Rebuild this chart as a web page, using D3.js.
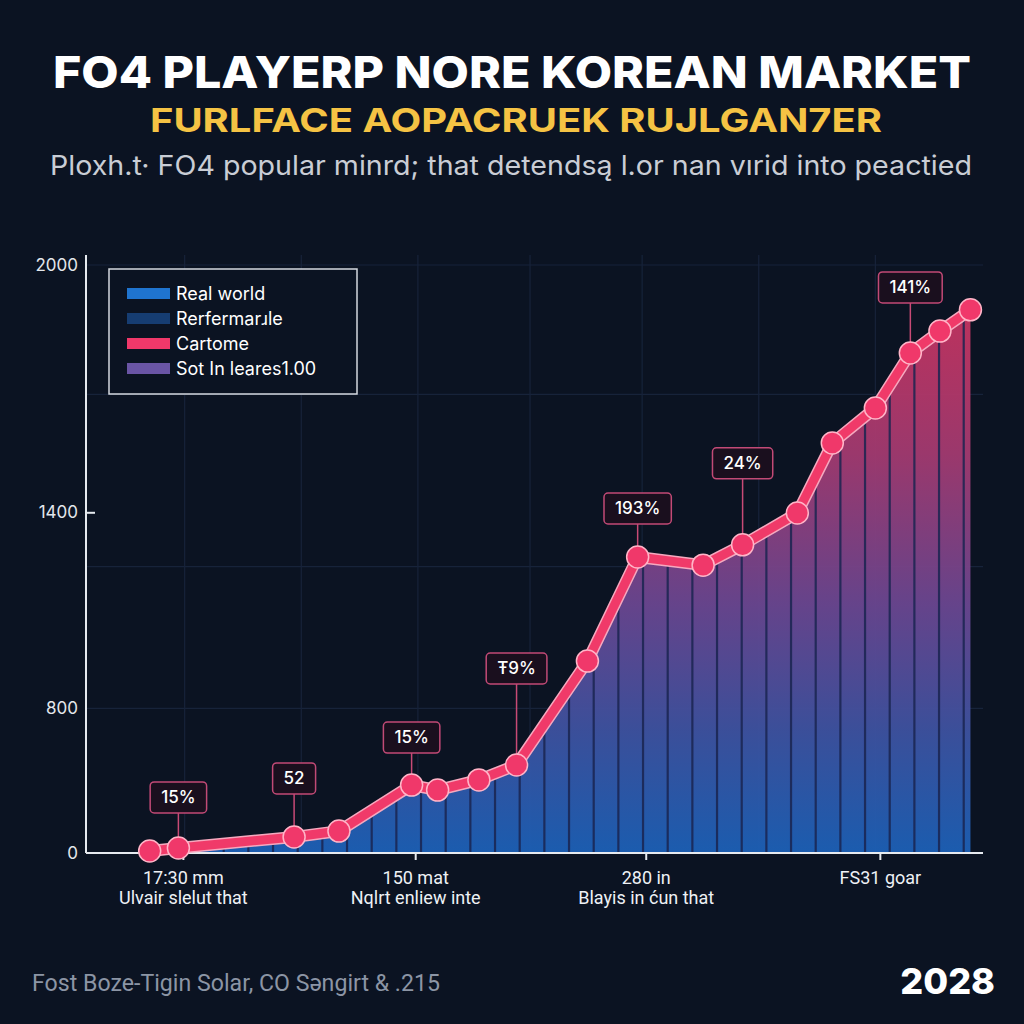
<!DOCTYPE html>
<html><head><meta charset="utf-8">
<script src="https://cdn.jsdelivr.net/npm/d3@7"></script>
<style>html,body{margin:0;padding:0;background:#0b1322;}svg{display:block;}</style>
</head><body>
<script>
// ---------- DATA ----------
const titleText = "FO4 PLAYERP NORE KOREAN MARKET";
const subtitleText = "FURLFACE AOPACRUEK RUJLGAN7ER";
const descText = "Ploxh.t· FO4 popular minrd; that detendsą l.or nan vırid into peactied";
const sourceText = "Fost Boze-Tigin Solar, CO Səngirt & .215";
const yearText = "2028";

const legendLabels = ["Real world", "Rerfermarɹle", "Cartome", "Sot In leares1.00"];
const legendColors = ["#1f74cf", "#163d72", "#f0386a", "#6a55a5"];

const xPeriods = [7.1, 10.3, 23.2, 28.2, 36.3, 39.2, 43.8, 48.0, 55.9, 61.5, 68.8, 73.2, 79.3, 83.2, 88.0, 91.9, 95.2, 98.6];
const playerValues = [49, 89, 190, 233, 488, 464, 512, 578, 962, 1277, 1254, 1311, 1398, 1580, 1667, 1799, 1850, 1899];

const calloutIndex = [1, 2, 4, 7, 9, 11, 15];
const calloutLabels = ["15%", "52", "15%", "Ŧ9%", "193%", "24%", "141%"];

const yTickValues = [0, 800, 1400, 2000];
const yGridValues = [800, 1250, 1700, 2000];
const xGridValues = [11, 24, 37, 49.5, 62, 75, 88];
const xTickValues = [10.8, 36.7, 62.4, 88.5];
const xTickLine1 = ["17:30 mm", "150 mat", "280 in", "FS31 goar"];
const xTickLine2 = ["Ulvair slelut that", "Nqlrt enliew inte", "Blayis in ćun that", ""];

// ---------- LAYOUT ----------
const W = 1024, H = 1024;
const plot = {left: 86, right: 983, top: 265, bottom: 853};
const calloutLift = [51, 59, 48, 97, 49, 82, 66];

const svg = d3.select("body").append("svg").attr("width", W).attr("height", H);
svg.append("rect").attr("width", W).attr("height", H).attr("fill", "#0b1322");

const x = d3.scaleLinear().domain([0, 100]).range([plot.left, plot.right]);
const y = d3.scalePow().exponent(1.53).domain([0, 2000]).range([plot.bottom, plot.top]);

const defs = svg.append("defs");
const grad = defs.append("linearGradient").attr("id", "areaGrad")
  .attr("gradientUnits", "userSpaceOnUse").attr("x1", 0).attr("x2", 0).attr("y1", 300).attr("y2", plot.bottom);
[[0, "#c8335f"], [0.28, "#a23a70"], [0.55, "#6a4690"], [0.78, "#3d52a0"], [1, "#1c60b6"]]
  .forEach(([o, c]) => grad.append("stop").attr("offset", o).attr("stop-color", c));

// ---------- TITLES ----------
const FONT = "Inter, 'Open Sans', 'DejaVu Sans', sans-serif";
svg.append("text").attr("x", 512).attr("y", 88).attr("text-anchor", "middle")
  .attr("font-family", FONT).attr("font-weight", 800).attr("font-size", 44)
  .attr("fill", "#ffffff").attr("textLength", 918).attr("lengthAdjust", "spacingAndGlyphs").text(titleText);
svg.append("text").attr("x", 516).attr("y", 132).attr("text-anchor", "middle")
  .attr("font-family", FONT).attr("font-weight", 700).attr("font-size", 33)
  .attr("fill", "#f5c344").attr("textLength", 732).attr("lengthAdjust", "spacingAndGlyphs").text(subtitleText);
svg.append("text").attr("x", 511).attr("y", 175).attr("text-anchor", "middle")
  .attr("font-family", FONT).attr("font-weight", 400).attr("font-size", 27)
  .attr("fill", "#c9cdd5").attr("textLength", 922).attr("lengthAdjust", "spacingAndGlyphs").text(descText);

// ---------- GRID ----------
const g = svg.append("g");
g.selectAll(".hg").data(yGridValues).enter().append("line")
  .attr("x1", plot.left).attr("x2", plot.right).attr("y1", d => y(d)).attr("y2", d => y(d))
  .attr("stroke", "#17233a").attr("stroke-width", 1.2);
g.selectAll(".vg").data(xGridValues).enter().append("line")
  .attr("x1", d => x(d)).attr("x2", d => x(d)).attr("y1", plot.top - 10).attr("y2", plot.bottom)
  .attr("stroke", "#17233a").attr("stroke-width", 1.2);

// ---------- AREA (striped columns) ----------
const pts = xPeriods.map((p, i) => ({p, v: playerValues[i]}));
const area = d3.area().x(d => x(d.p)).y0(plot.bottom).y1(d => y(d.v));
defs.append("clipPath").attr("id", "areaClip").append("path").attr("d", area(pts));
g.append("path").attr("d", area(pts)).attr("fill", "url(#areaGrad)").attr("opacity", 0.95);
const stripeStep = 2.75;
const stripes = d3.range(xPeriods[0], xPeriods[xPeriods.length - 1], stripeStep);
g.append("g").attr("clip-path", "url(#areaClip)").selectAll("line").data(stripes).enter().append("line")
  .attr("x1", d => x(d)).attr("x2", d => x(d)).attr("y1", plot.top).attr("y2", plot.bottom)
  .attr("stroke", "#1a2550").attr("stroke-opacity", 0.85).attr("stroke-width", 2.2);

// ---------- AXES ----------
const yAxis = d3.axisLeft(y).tickValues(yTickValues).tickSize(0).tickPadding(8).tickFormat(d3.format("d"));
const ya = svg.append("g").attr("transform", `translate(${plot.left},0)`).call(yAxis);
ya.select(".domain").attr("stroke", "#e6eaef").attr("stroke-width", 2).attr("d", `M0,${plot.top - 10}V${plot.bottom}`);
ya.selectAll("text").attr("font-family", FONT).attr("font-size", 17).attr("fill", "#e3e7ec");
ya.selectAll(".tick").filter(d => d === 1400).append("line").attr("x1", 0).attr("x2", 9)
  .attr("stroke", "#e6eaef").attr("stroke-width", 2);

const xAxis = d3.axisBottom(x).tickValues(xTickValues).tickSize(7).tickFormat("");
const xa = svg.append("g").attr("transform", `translate(0,${plot.bottom})`).call(xAxis);
xa.select(".domain").attr("stroke", "#e6eaef").attr("stroke-width", 2).attr("d", `M${plot.left},0H${plot.right}`);
xa.selectAll(".tick line").attr("stroke", "#e6eaef").attr("stroke-width", 2);
const NARROW = "'Liberation Sans Narrow', Roboto, sans-serif";
xa.selectAll(".tick").each(function(d, i) {
  const t = d3.select(this);
  t.append("text").attr("y", 31).attr("text-anchor", "middle").attr("font-family", NARROW)
    .attr("font-size", 18).attr("fill", "#eef1f5").text(xTickLine1[i]);
  t.append("text").attr("y", 51).attr("text-anchor", "middle").attr("font-family", NARROW)
    .attr("font-size", 18).attr("fill", "#eef1f5").text(xTickLine2[i]);
});

// ---------- CALLOUT CONNECTORS ----------
const co = svg.append("g");
calloutIndex.forEach((idx, k) => {
  const px = x(xPeriods[idx]), py = y(playerValues[idx]);
  co.append("line").attr("x1", px).attr("x2", px).attr("y1", py - calloutLift[k] + 15).attr("y2", py)
    .attr("stroke", "#c84a76").attr("stroke-width", 1.5);
});

// ---------- LINE ----------
const line = d3.line().x(d => x(d.p)).y(d => y(d.v));
svg.append("path").attr("d", line(pts)).attr("fill", "none").attr("stroke", "#f6a9bf")
  .attr("stroke-width", 12).attr("stroke-linejoin", "round").attr("stroke-linecap", "round");
svg.append("path").attr("d", line(pts)).attr("fill", "none").attr("stroke", "#f03a69")
  .attr("stroke-width", 9).attr("stroke-linejoin", "round").attr("stroke-linecap", "round");
svg.append("g").selectAll("circle").data(pts).enter().append("circle")
  .attr("cx", d => x(d.p)).attr("cy", d => y(d.v)).attr("r", 11)
  .attr("fill", "#f0386a").attr("stroke", "#ffb5c8").attr("stroke-width", 1.5);

// ---------- CALLOUT BOXES ----------
calloutIndex.forEach((idx, k) => {
  const px = x(xPeriods[idx]), py = y(playerValues[idx]);
  const cy = py - calloutLift[k];
  const grp = co.append("g");
  const txt = grp.append("text").attr("x", px).attr("y", cy + 6).attr("text-anchor", "middle")
    .attr("font-family", FONT).attr("font-size", 17).attr("font-weight", 500).attr("fill", "#ffffff")
    .text(calloutLabels[k]);
  const bw = txt.node().getComputedTextLength() + 22;
  grp.insert("rect", "text").attr("x", px - bw / 2).attr("y", cy - 15).attr("width", bw).attr("height", 31)
    .attr("rx", 4).attr("fill", "#1a0f1e").attr("stroke", "#c24a76").attr("stroke-width", 1.5);
});

// ---------- LEGEND ----------
const lg = svg.append("g");
lg.append("rect").attr("x", 109).attr("y", 269).attr("width", 248).attr("height", 125)
  .attr("fill", "#0b1322").attr("stroke", "#d5d9df").attr("stroke-width", 1.5);
legendLabels.forEach((lab, i) => {
  lg.append("rect").attr("x", 127).attr("y", 288 + i * 25).attr("width", 43).attr("height", 11).attr("fill", legendColors[i]);
  lg.append("text").attr("x", 176).attr("y", 300 + i * 25).attr("font-family", FONT).attr("font-size", 18)
    .attr("fill", "#ffffff").text(lab);
});

// ---------- FOOTER ----------
svg.append("text").attr("x", 32).attr("y", 991).attr("font-family", NARROW).attr("font-size", 23)
  .attr("fill", "#8c95a5").attr("textLength", 408).attr("lengthAdjust", "spacingAndGlyphs").text(sourceText);
svg.append("text").attr("x", 995).attr("y", 994).attr("text-anchor", "end").attr("font-family", FONT)
  .attr("font-weight", 800).attr("font-size", 36).attr("fill", "#ffffff").text(yearText);
</script>
</body></html>
